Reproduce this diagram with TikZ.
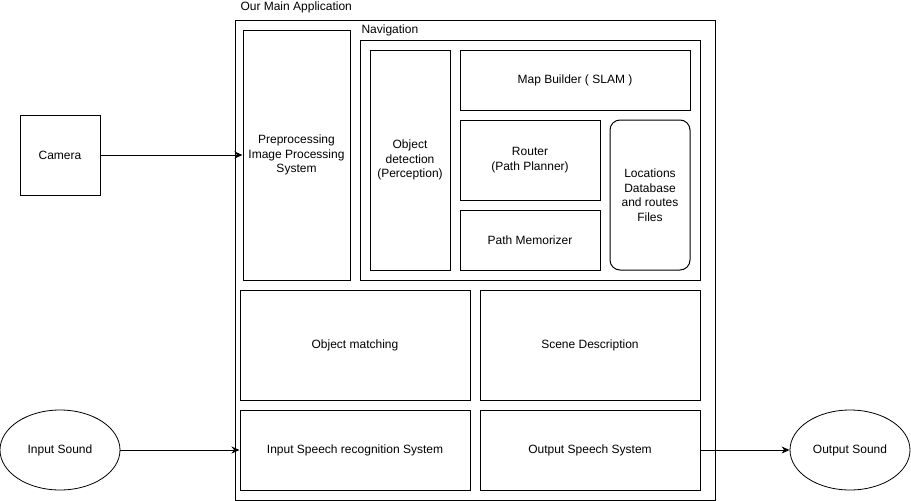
\documentclass[tikz,border=0pt]{standalone}
\usepackage{fontspec}
\setmainfont{Liberation Sans}
\usetikzlibrary{arrows.meta,shapes.geometric}
\begin{document}
\begin{tikzpicture}[x=1pt,y=-1pt,line width=1pt,
  font=\fontsize{12}{14.5}\selectfont,
  box/.style={draw, rectangle, inner sep=0pt, align=center},
  rbox/.style={draw, rectangle, rounded corners=10pt, inner sep=0pt, align=center},
  oval/.style={draw, ellipse, inner sep=0pt, line width=0.8pt},
  lbl/.style={anchor=west, inner sep=0pt},
  arr/.style={-{Stealth[length=8pt,width=7pt,inset=2.5pt]}}]
\useasboundingbox (0,0) rectangle (911,501);
% containers
\node[box, minimum width=480, minimum height=480] (main) at (475,260) {};
\node[lbl] (mainlbl) at (240,7) {Our Main Application};
\node[box, minimum width=340, minimum height=240] (nav) at (530,160) {};
\node[lbl] (navlbl) at (361,30) {Navigation};
% inner boxes
\node[box, minimum width=107, minimum height=250] (pre) at (296.5,155) {Preprocessing\\Image Processing\\System};
\node[box, minimum width=80, minimum height=220] (od) at (410,160) {Object\\detection\\(Perception)};
\node[box, minimum width=230, minimum height=60] (map) at (575,80) {Map Builder ( SLAM )};
\node[box, minimum width=140, minimum height=80] (router) at (530,160) {Router\\(Path Planner)};
\node[box, minimum width=140, minimum height=60] (pm) at (530,240) {Path Memorizer};
\node[rbox, minimum width=80, minimum height=150] (loc) at (650,195) {Locations\\Database\\and routes\\Files};
\node[box, minimum width=230, minimum height=110] (om) at (355,345) {Object matching};
\node[box, minimum width=220, minimum height=110] (sd) at (590,345) {Scene Description};
\node[box, minimum width=230, minimum height=80] (isr) at (355,450) {Input Speech recognition System};
\node[box, minimum width=220, minimum height=80] (oss) at (590,450) {Output Speech System};
% externals
\node[box, minimum width=80, minimum height=80] (cam) at (60,155) {Camera};
\node[oval, minimum width=120, minimum height=80] (ins) at (60,450) {Input Sound};
\node[oval, minimum width=120, minimum height=80] (outs) at (850,450) {Output Sound};
% connectors
\draw[arr] (cam.east) -- (pre.west);
\draw[arr] (ins.east) -- (isr.west);
\draw[arr] (oss.east) -- (outs.west);
\end{tikzpicture}
\end{document}
